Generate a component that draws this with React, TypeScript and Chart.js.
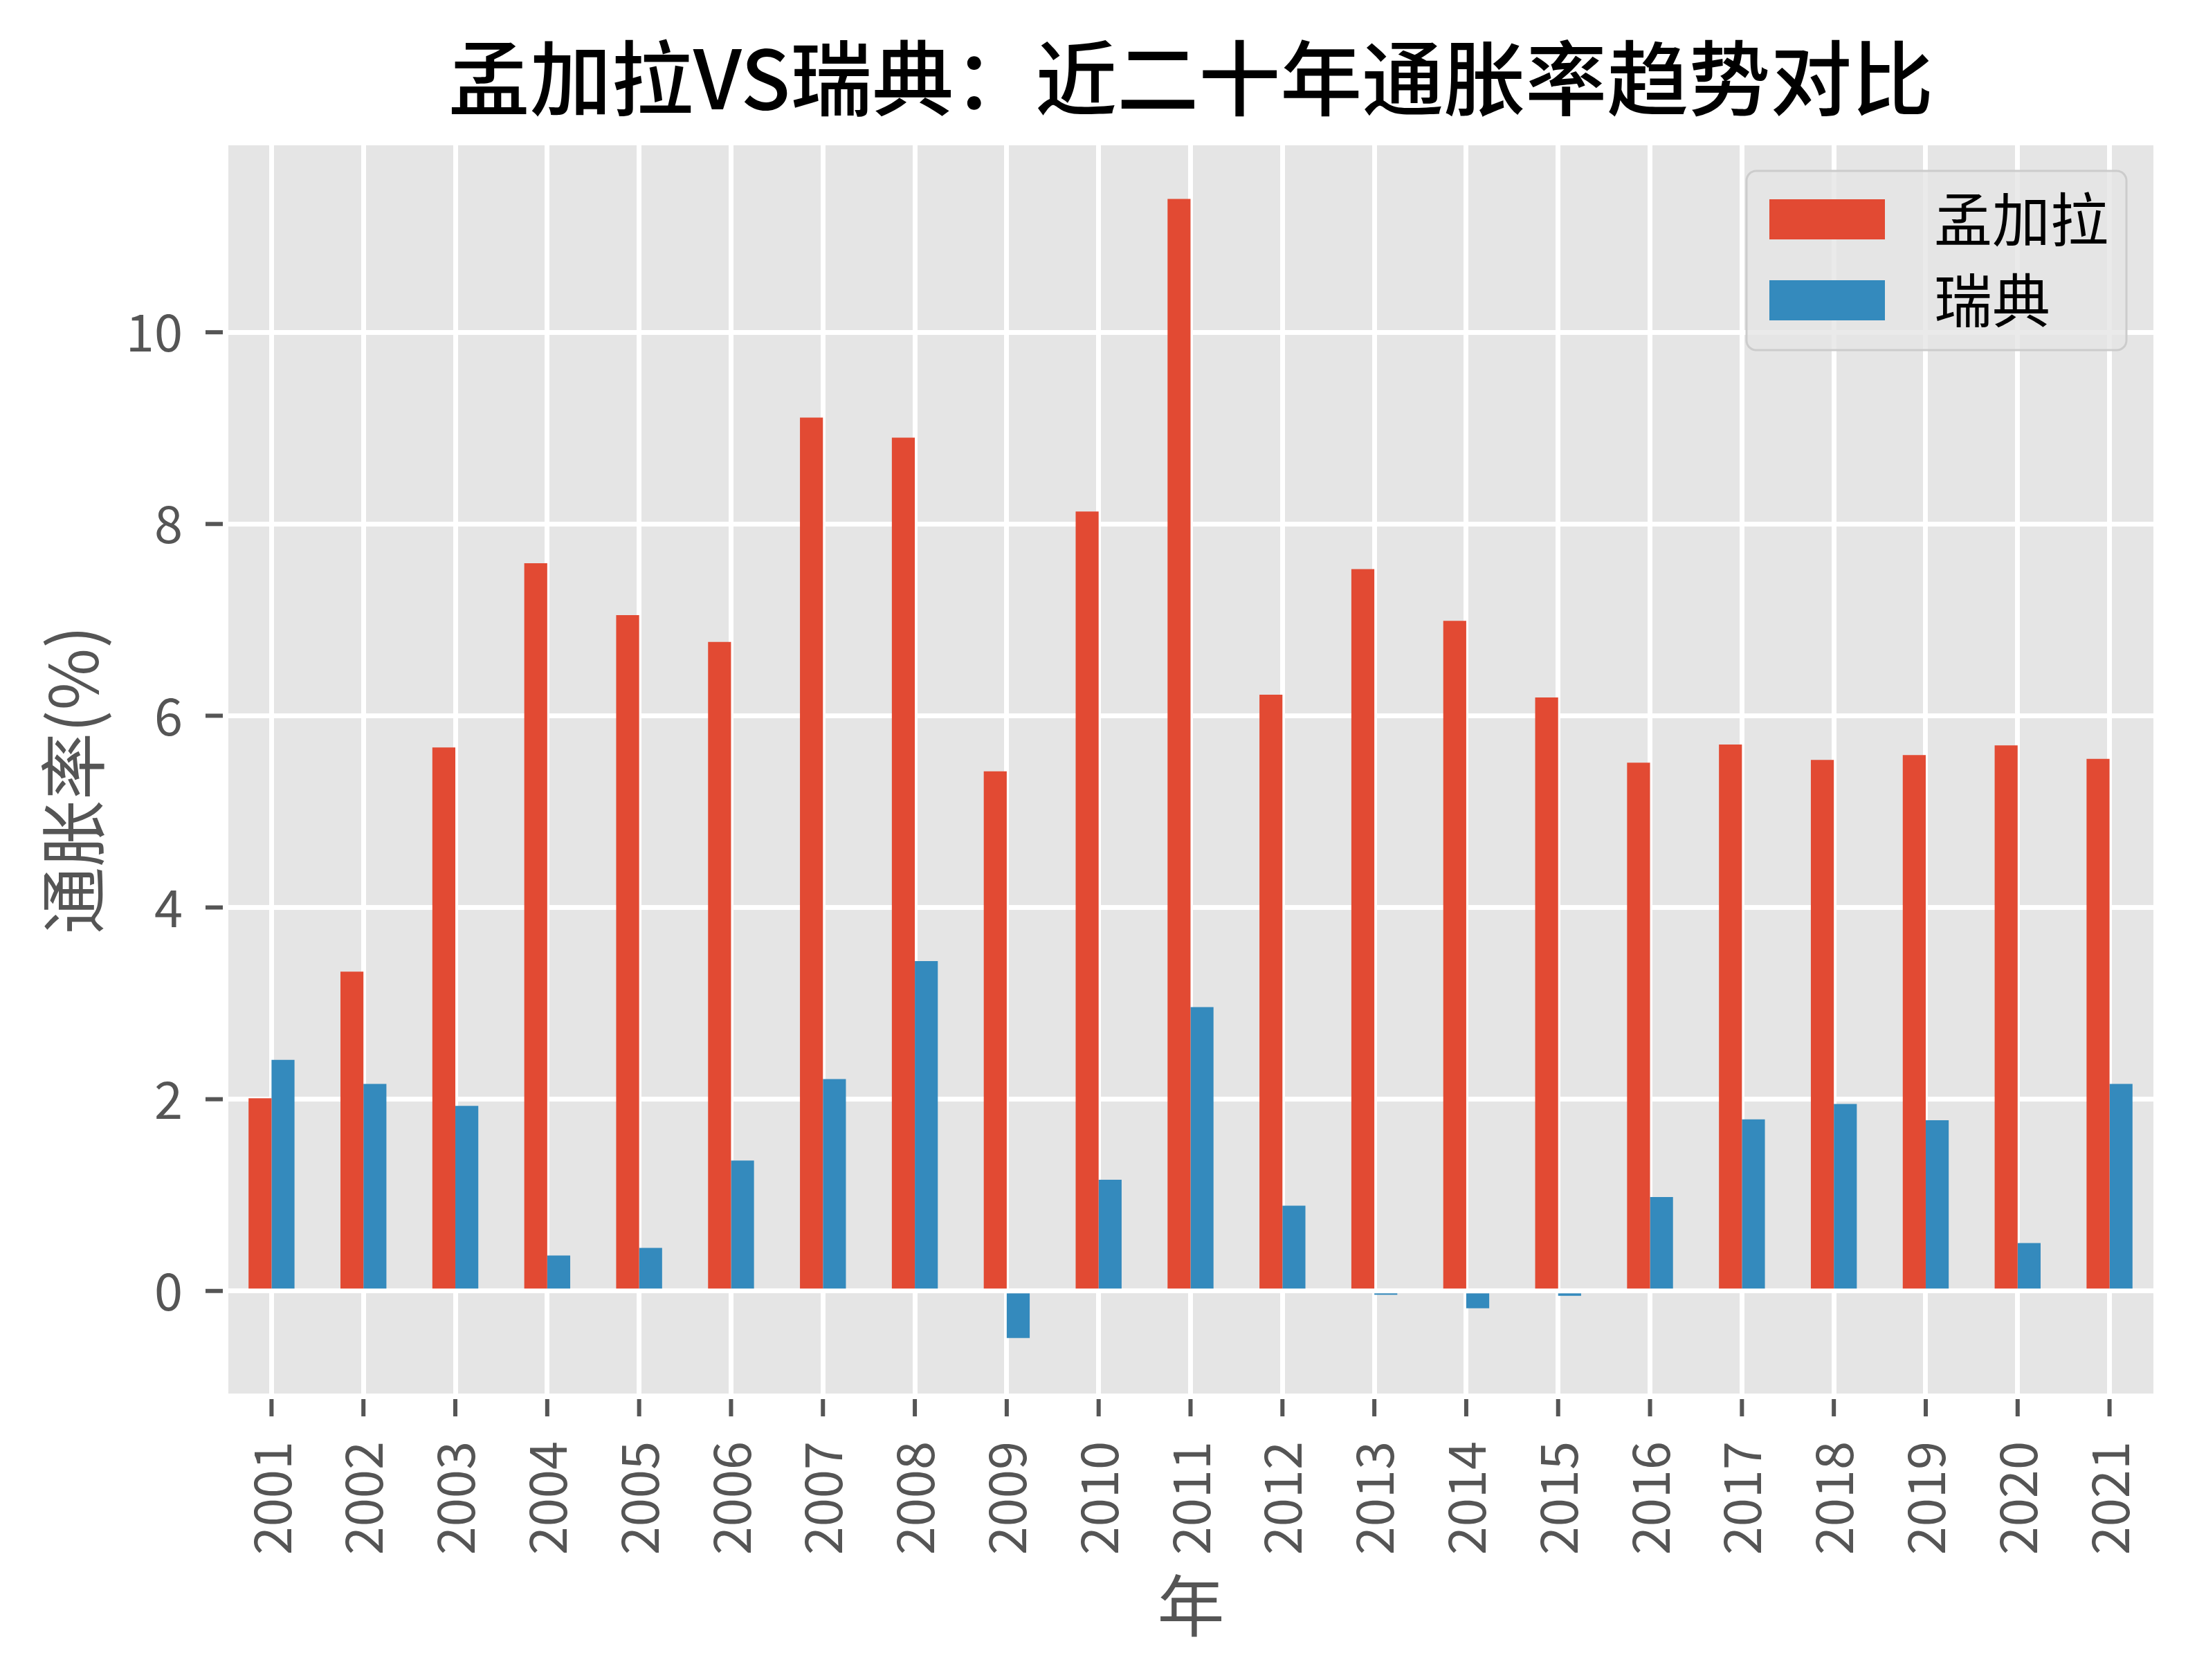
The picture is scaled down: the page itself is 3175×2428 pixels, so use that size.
import React, { useEffect, useRef } from 'react';
import { Chart, registerables } from 'chart.js';

Chart.register(...registerables);

// ---- data ----
const years = ['2001', '2002', '2003', '2004', '2005', '2006', '2007', '2008', '2009', '2010', '2011', '2012', '2013', '2014', '2015', '2016', '2017', '2018', '2019', '2020', '2021'];
const bangladesh = [2.01, 3.33, 5.67, 7.59, 7.05, 6.77, 9.11, 8.9, 5.42, 8.13, 11.39, 6.22, 7.53, 6.99, 6.19, 5.51, 5.7, 5.54, 5.59, 5.69, 5.55];
const sweden = [2.41, 2.16, 1.93, 0.37, 0.45, 1.36, 2.21, 3.44, -0.49, 1.16, 2.96, 0.89, -0.04, -0.18, -0.05, 0.98, 1.79, 1.95, 1.78, 0.5, 2.16];
const seriesNames = ['孟加拉', '瑞典'];
const seriesColors = ['#E24A33', '#348ABD'];
const yMin = -1.07;
const yMax = 11.95;
const yStep = 2;
const titleText = '孟加拉VS瑞典：近二十年通胀率趋势对比';
const xTitle = '年';
const yTitle = '通胀率(%)';

const FONT = '"Noto Sans CJK SC", "Noto Sans", sans-serif';
const W = 3175;
const H = 2428;
// plot background panel (slightly inside the category scale's half-step margins)
const BG_LEFT = 330;
const BG_RIGHT = 3112;

const decorPlugin = {
  id: 'decor',
  beforeDraw(chart: any) {
    const { ctx, chartArea } = chart;
    ctx.save();
    ctx.fillStyle = '#ffffff';
    ctx.fillRect(0, 0, chart.width, chart.height);
    ctx.fillStyle = '#E5E5E5';
    ctx.fillRect(BG_LEFT, chartArea.top, BG_RIGHT - BG_LEFT, chartArea.bottom - chartArea.top);
    ctx.restore();
  },
  afterDraw(chart: any) {
    const { ctx, chartArea } = chart;
    const xs = chart.scales.x;
    const ys = chart.scales.y;
    ctx.save();
    // tick marks
    ctx.strokeStyle = '#555555';
    ctx.lineWidth = 6;
    xs.ticks.forEach((_t: any, i: number) => {
      const x = xs.getPixelForTick(i);
      ctx.beginPath();
      ctx.moveTo(x, chartArea.bottom + 8);
      ctx.lineTo(x, chartArea.bottom + 33);
      ctx.stroke();
    });
    ys.ticks.forEach((_t: any, i: number) => {
      const y = ys.getPixelForTick(i);
      ctx.beginPath();
      ctx.moveTo(BG_LEFT - 33, y);
      ctx.lineTo(BG_LEFT - 8, y);
      ctx.stroke();
    });

    // title
    const cx = (BG_LEFT + BG_RIGHT) / 2;
    ctx.fillStyle = '#000000';
    ctx.font = `500 118px ${FONT}`;
    ctx.textAlign = 'center';
    ctx.textBaseline = 'middle';
    ctx.fillText(titleText, cx, 113);

    // axis titles
    ctx.fillStyle = '#555555';
    ctx.font = `400 97px ${FONT}`;
    ctx.fillText(xTitle, cx, 2320);
    ctx.save();
    ctx.translate(105, (chartArea.top + chartArea.bottom) / 2 + 15);
    ctx.rotate(-Math.PI / 2);
    ctx.fillText(yTitle, 0, 0);
    ctx.restore();

    // legend
    const bx = 2524, by = 247, bw = 549, bh = 259;
    ctx.beginPath();
    ctx.roundRect(bx, by, bw, bh, 14);
    ctx.fillStyle = 'rgba(229,229,229,0.8)';
    ctx.fill();
    ctx.strokeStyle = '#cccccc';
    ctx.lineWidth = 3;
    ctx.stroke();
    const rows = [317, 434];
    chart.data.datasets.forEach((ds: any, i: number) => {
      const ry = rows[i];
      ctx.fillStyle = ds.backgroundColor;
      ctx.fillRect(2557, ry - 29, 167, 58);
      ctx.fillStyle = '#000000';
      ctx.font = `400 84px ${FONT}`;
      ctx.textAlign = 'left';
      ctx.textBaseline = 'middle';
      ctx.fillText(ds.label, 2795, ry);
    });
    ctx.restore();
  },
};

export default function App() {
  const ref = useRef<HTMLCanvasElement>(null);
  useEffect(() => {
    document.body.style.margin = '0';
    const canvas = ref.current!;
    const tickFont = { family: FONT, size: 74 };
    const chart = new Chart(canvas, {
      type: 'bar',
      data: {
        labels: years,
        datasets: [
          { label: seriesNames[0], data: bangladesh, backgroundColor: seriesColors[0], borderWidth: 0, categoryPercentage: 0.5, barPercentage: 1.0 },
          { label: seriesNames[1], data: sweden, backgroundColor: seriesColors[1], borderWidth: 0, categoryPercentage: 0.5, barPercentage: 1.0 },
        ],
      },
      options: {
        responsive: false,
        animation: false,
        devicePixelRatio: 1,
        layout: { padding: { top: 210, right: 60, left: 0, bottom: 0 } },
        plugins: {
          legend: { display: false },
          title: { display: false },
          tooltip: { enabled: false },
        },
        scales: {
          x: {
            offset: true,
            grid: { offset: false, color: '#ffffff', lineWidth: 7, drawTicks: false },
            border: { display: false },
            ticks: { autoSkip: false, maxRotation: 90, minRotation: 90, padding: 69, font: tickFont, color: '#555555' },
            afterFit: (s: any) => {
              s.height = H - 2014;
              s.paddingLeft = 0;
              s.paddingRight = 0;
            },
          },
          y: {
            min: yMin,
            max: yMax,
            grid: { color: '#ffffff', lineWidth: 7, drawTicks: false },
            border: { display: false },
            ticks: { stepSize: yStep, includeBounds: false, padding: 62, font: tickFont, color: '#555555' },
            afterFit: (s: any) => {
              s.width = 326;
              s.paddingTop = 0;
              s.paddingBottom = 0;
            },
          },
        },
      } as any,
      plugins: [decorPlugin],
    });
    return () => chart.destroy();
  }, []);
  return (
    <canvas ref={ref} width={W} height={H} style={{ display: 'block', width: W, height: H }} />
  );
}
